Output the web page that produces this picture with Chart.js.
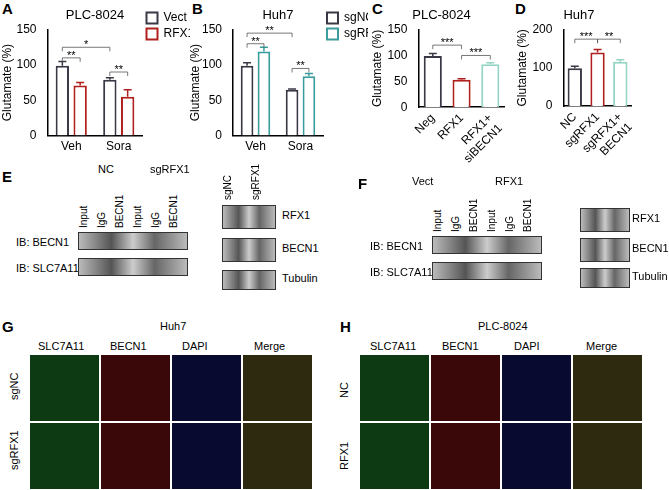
<!DOCTYPE html>
<html><head><meta charset="utf-8">
<script src="https://cdn.jsdelivr.net/npm/chart.js@4"></script>
<style>
body{margin:0;width:669px;height:490px;background:#fff;font-family:Arial,"Liberation Sans",sans-serif;position:relative;overflow:hidden}
.p{position:absolute}
.lbl{position:absolute;font-weight:bold;font-size:15px}
.t{position:absolute;font-size:11px;white-space:nowrap}
.blot{position:absolute;background:linear-gradient(90deg,#bbb,#555 30%,#ccc 50%,#666 70%,#bbb);border:1px solid #333}
.img{position:absolute;background:#111}
</style></head><body>
<div class="lbl" style="left:2px;top:0">A</div>
<div class="lbl" style="left:192px;top:0">B</div>
<div class="lbl" style="left:372px;top:0">C</div>
<div class="lbl" style="left:515px;top:0">D</div>
<div class="p" style="left:0;top:8px;width:192px;height:150px"><canvas id="cA"></canvas></div>
<div class="p" style="left:188px;top:8px;width:182px;height:150px"><canvas id="cB"></canvas></div>
<div class="p" style="left:370px;top:8px;width:145px;height:162px"><canvas id="cC"></canvas></div>
<div class="p" style="left:515px;top:8px;width:130px;height:162px"><canvas id="cD"></canvas></div>

<div class="lbl" style="left:2px;top:168px">E</div>
<div class="lbl" style="left:358px;top:175px">F</div>
<div class="lbl" style="left:2px;top:318px">G</div>
<div class="lbl" style="left:340px;top:318px">H</div>
<div id="lower"></div>

<script>
// values
const catsAB = ['Veh', 'Sora'];
const vectA = [99, 79], vectAerr = [6, 3];
const rfx1A = [71, 55], rfx1Aerr = [4, 10];
const sgncB = [99, 65], sgncBerr = [4, 1];
const sgrfxB = [119, 84], sgrfxBerr = [6, 4];
const catsC = ['Neg', 'RFX1', ['RFX1+', 'siBECN1']];
const valsC = [99, 53, 83], errC = [5, 2, 3];
const catsD = ['NC', 'sgRFX1', ['sgRFX1+', 'BECN1']];
const valsD = [99, 140, 116], errD = [5, 8, 5];

const DARK = '#3b3846', RED = '#b0201e', TEAL = '#3a9c9c', MINT = '#93d4c4';

const errPlugin = {
  id: 'err',
  afterDatasetsDraw(chart, args, opts) {
    const ctx = chart.ctx, y = chart.scales.y;
    chart.data.datasets.forEach((ds, i) => {
      chart.getDatasetMeta(i).data.forEach((bar, j) => {
        const e = ds.err[j], top = y.getPixelForValue(ds.data[j] + e);
        const c = Array.isArray(ds.borderColor) ? ds.borderColor[j] : ds.borderColor;
        ctx.save(); ctx.strokeStyle = c; ctx.lineWidth = 1.5;
        ctx.beginPath(); ctx.moveTo(bar.x, bar.y); ctx.lineTo(bar.x, top);
        ctx.moveTo(bar.x - 4, top); ctx.lineTo(bar.x + 4, top); ctx.stroke(); ctx.restore();
      });
    });
    ctx.save(); ctx.strokeStyle = '#555'; ctx.lineWidth = 0.8; ctx.fillStyle = '#000';
    ctx.font = '11px Arial'; ctx.textAlign = 'center';
    (opts.sig || []).forEach(s => {
      const a = chart.getDatasetMeta(s[0]).data[s[1]], b = chart.getDatasetMeta(s[2]).data[s[3]];
      const yy = y.getPixelForValue(s[4]);
      ctx.beginPath(); ctx.moveTo(a.x, yy + 4); ctx.lineTo(a.x, yy); ctx.lineTo(b.x, yy); ctx.lineTo(b.x, yy + 4); ctx.stroke();
      ctx.fillText(s[5], (a.x + b.x) / 2, yy + 1);
    });
    ctx.restore();
  }
};

function mk(id, title, labels, datasets, max, step, sig, legend, rot) {
  new Chart(document.getElementById(id), {
    type: 'bar',
    data: { labels, datasets },
    plugins: [errPlugin],
    options: {
      responsive: true, maintainAspectRatio: false, animation: false,
      layout: { padding: { right: 2 } },
      plugins: {
        title: { display: true, text: title, color: '#000', font: { size: 13, weight: 'normal' }, padding: { bottom: 6 } },
        legend: legend ? { display: true, position: 'right', align: 'start',
          labels: { boxWidth: 11, boxHeight: 11, color: '#000', font: { size: 12 }, padding: 4 } } : { display: false },
        tooltip: { enabled: false },
        err: { sig }
      },
      scales: {
        x: { grid: { display: false, drawTicks: false }, border: { color: '#000', width: 1.5 },
          ticks: { color: '#000', font: { size: 12 }, autoSkip: false, padding: 4,
            maxRotation: rot ? 45 : 0, minRotation: rot ? 45 : 0 } },
        y: { min: 0, max, grid: { display: false }, border: { color: '#000', width: 1.5 },
          ticks: { stepSize: step, color: '#000', font: { size: 12 } },
          title: { display: true, text: 'Glutamate (%)', color: '#000', font: { size: 12 }, padding: 0 } }
      }
    }
  });
}
const bar = (label, data, err, color) => ({ label, data, err, backgroundColor: '#fff', borderColor: color, borderWidth: 2, barPercentage: 0.75, categoryPercentage: 0.75 });

mk('cA', 'PLC-8024', catsAB, [bar('Vect', vectA, vectAerr, DARK), bar('RFX1', rfx1A, rfx1Aerr, RED)], 150, 50,
  [[0,0,1,0,110,'**'], [0,0,0,1,125,'*'], [0,1,1,1,90,'**']], true);
mk('cB', 'Huh7', catsAB, [bar('sgNC', sgncB, sgncBerr, DARK), bar('sgRFX1', sgrfxB, sgrfxBerr, TEAL)], 150, 50,
  [[0,0,1,0,130,'**'], [0,0,0,1,145,'**'], [0,1,1,1,95,'**']], true);
const dsC = bar('', valsC, errC, [DARK, RED, MINT]); dsC.categoryPercentage = 0.7; dsC.barPercentage = 0.9;
mk('cC', 'PLC-8024', catsC, [dsC], 150, 50, [[0,0,0,1,120,'***'], [0,1,0,2,100,'***']], false, true);
const dsD = bar('', valsD, errD, [DARK, RED, MINT]); dsD.categoryPercentage = 0.7; dsD.barPercentage = 0.9;
mk('cD', 'Huh7', catsD, [dsD], 200, 100, [[0,0,0,1,175,'***'], [0,1,0,2,175,'**']], false, true);

// lower panels: blots and images as simple blocks with their text
const L = document.getElementById('lower');
function add(cls, x, y, w, h, txt, extra) {
  const d = document.createElement('div'); d.className = cls;
  d.style.cssText = 'left:' + x + 'px;top:' + y + 'px;' + (w ? 'width:' + w + 'px;height:' + h + 'px;' : '') + (extra || '');
  if (txt) d.textContent = txt; L.appendChild(d);
}
const rot = 'transform:rotate(-90deg);transform-origin:left top;font-size:10px';
add('t', 98, 163, 0, 0, 'NC'); add('t', 150, 163, 0, 0, 'sgRFX1');
['Input','IgG','BECN1','Input','IgG','BECN1'].forEach((s, i) => add('t', 78 + i * 18, 228, 0, 0, s, rot));
add('t', 16, 236, 0, 0, 'IB: BECN1'); add('blot', 78, 232, 108, 16);
add('t', 16, 262, 0, 0, 'IB: SLC7A11'); add('blot', 78, 258, 108, 16);
add('t', 222, 200, 0, 0, 'sgNC', rot); add('t', 250, 200, 0, 0, 'sgRFX1', rot);
add('blot', 222, 205, 52, 22); add('t', 282, 209, 0, 0, 'RFX1');
add('blot', 222, 238, 52, 22); add('t', 282, 242, 0, 0, 'BECN1');
add('blot', 222, 270, 52, 18); add('t', 282, 272, 0, 0, 'Tubulin');
add('t', 412, 175, 0, 0, 'Vect'); add('t', 495, 175, 0, 0, 'RFX1');
['Input','IgG','BECN1','Input','IgG','BECN1'].forEach((s, i) => add('t', 432 + i * 18, 232, 0, 0, s, rot));
add('t', 370, 240, 0, 0, 'IB: BECN1'); add('blot', 432, 236, 108, 16);
add('t', 370, 266, 0, 0, 'IB: SLC7A11'); add('blot', 432, 262, 108, 16);
add('blot', 580, 208, 48, 22); add('t', 632, 212, 0, 0, 'RFX1');
add('blot', 580, 238, 48, 22); add('t', 632, 242, 0, 0, 'BECN1');
add('blot', 580, 268, 48, 18); add('t', 632, 270, 0, 0, 'Tubulin');
add('t', 160, 320, 0, 0, 'Huh7'); add('t', 478, 320, 0, 0, 'PLC-8024');
['SLC7A11','BECN1','DAPI','Merge'].forEach((s, i) => {
  add('t', 38 + i * 72, 340, 0, 0, s); add('t', 370 + i * 72, 340, 0, 0, s);
});
const tints = ['#0d3a12', '#3a0808', '#080a30', '#2e2a10'];
for (let r = 0; r < 2; r++) for (let i = 0; i < 4; i++) {
  add('img', 30 + i * 71, 355 + r * 68, 69, 66, '', 'background:' + tints[i]);
  add('img', 360 + i * 71, 355 + r * 68, 69, 66, '', 'background:' + tints[i]);
}
const rot2 = 'transform:rotate(-90deg);transform-origin:left top';
add('t', 8, 400, 0, 0, 'sgNC', rot2); add('t', 8, 470, 0, 0, 'sgRFX1', rot2);
add('t', 338, 398, 0, 0, 'NC', rot2); add('t', 338, 470, 0, 0, 'RFX1', rot2);
</script>
</body></html>
